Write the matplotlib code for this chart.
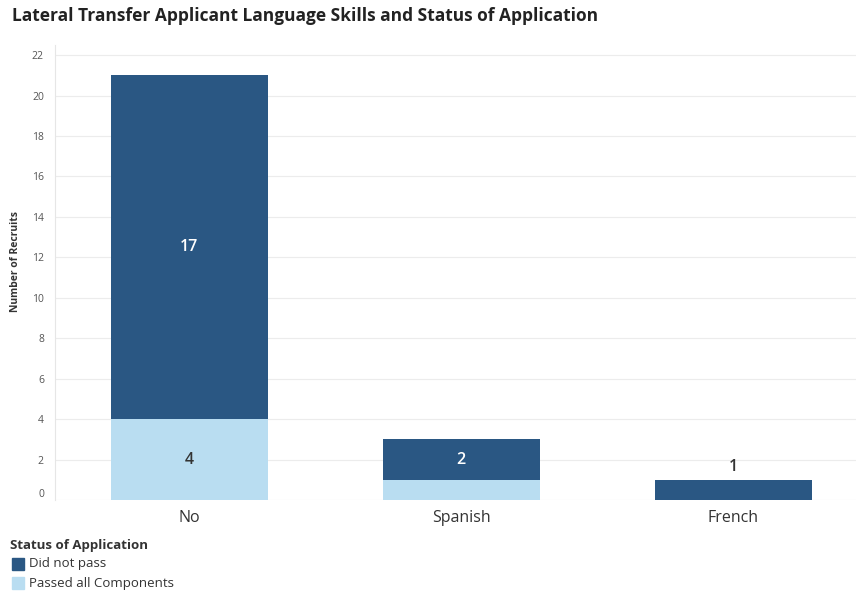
import matplotlib.pyplot as plt
import matplotlib.patches as mpatches
import numpy as np

# language skill groups and application status counts
languages = ['No', 'Spanish', 'French']
passed_all = [4, 1, 0]
did_not_pass = [17, 2, 1]
yticks = [0, 2, 4, 6, 8, 10, 12, 14, 16, 18, 20, 22]

dark_blue = '#2a5783'
light_blue = '#b9ddf1'
text_col = '#333333'

plt.rcParams['font.family'] = ['Open Sans', 'DejaVu Sans']

fig = plt.figure(figsize=(8.56, 5.92), dpi=100)
ax = fig.add_axes([0.0643, 0.1554, 0.9357, 0.7686])

x = np.arange(len(languages))
w = 0.577
ax.bar(x, passed_all, w, color=light_blue, zorder=2)
ax.bar(x, did_not_pass, w, bottom=passed_all, color=dark_blue, zorder=2)

# segment labels
for i in range(len(languages)):
    p = passed_all[i]
    d = did_not_pass[i]
    if p >= 2:
        ax.text(x[i], p / 2, str(p), ha='center', va='center', fontsize=11.5,
                fontweight='semibold', color=text_col, zorder=3)
    if d >= 2:
        ax.text(x[i], p + d / 2, str(d), ha='center', va='center', fontsize=11.5,
                fontweight='semibold', color='white', zorder=3)
    elif d > 0 and p == 0:
        ax.text(x[i], p + d + 0.25, str(d), ha='center', va='bottom', fontsize=11.5,
                fontweight='semibold', color=text_col, zorder=3)

ax.set_xlim(-0.493, 2.452)
ax.set_ylim(0, 22.5)
ax.set_yticks(yticks)
ax.set_yticklabels([str(v) for v in yticks], fontsize=7.5, color='#555555')
ax.get_yticklabels()[0].set_verticalalignment('bottom')
ax.set_xticks(x)
ax.set_xticklabels(languages, fontsize=11.5, color=text_col)
ax.tick_params(axis='both', length=0)
ax.tick_params(axis='y', pad=8)
ax.tick_params(axis='x', pad=7)

ax.grid(axis='y', color='#ececec', linewidth=0.8, zorder=0)
for s in ['top', 'right', 'bottom']:
    ax.spines[s].set_visible(False)
ax.spines['left'].set_color('#e6e6e6')
ax.spines['left'].set_linewidth(0.8)

ax.set_ylabel('Number of Recruits', fontsize=7.5, fontweight='bold', color=text_col)
ax.yaxis.set_label_coords(-0.042, 0.525)

fig.text(12 / 856, 1 - 16 / 592, 'Lateral Transfer Applicant Language Skills and Status of Application',
         fontsize=12.5, fontweight='bold', color='#222222', ha='left', va='center')

# legend
fig.text(10 / 856, 1 - 546 / 592, 'Status of Application', fontsize=9.5, fontweight='bold',
         color=text_col, ha='left', va='center')
for k, (lab, col) in enumerate([('Did not pass', dark_blue), ('Passed all Components', light_blue)]):
    yc = 564 + 19 * k
    fig.patches.append(mpatches.Rectangle((12 / 856, 1 - (yc + 6) / 592), 12 / 856, 12 / 592,
                                          color=col, transform=fig.transFigure, figure=fig))
    fig.text(29 / 856, 1 - yc / 592, lab, fontsize=9.5, color=text_col, ha='left', va='center')

fig.savefig('out.png', dpi=100)
